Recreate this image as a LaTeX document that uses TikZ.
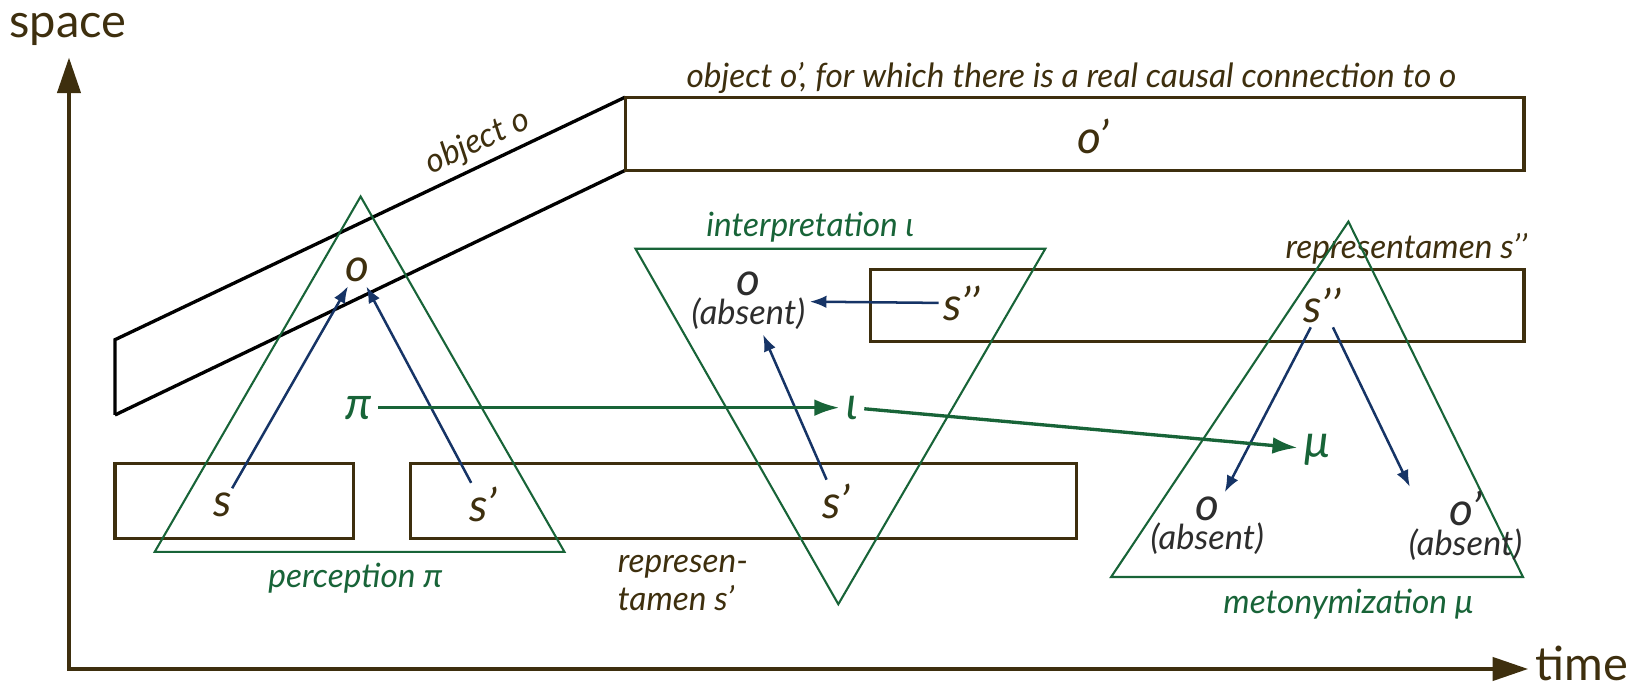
\documentclass[tikz,border=0pt]{standalone}
\usepackage{fontspec}
\setmainfont{Lato}
\usetikzlibrary{arrows.meta}
\definecolor{brn}{RGB}{62,47,14}
\definecolor{grn}{RGB}{24,100,56}
\definecolor{nvy}{RGB}{22,52,102}
\definecolor{absgray}{RGB}{45,45,45}
\newcommand{\symsize}{\fontsize{22}{22}\selectfont\itshape}
\newcommand{\abssize}{\fontsize{16.5}{17}\selectfont\itshape}
\tikzset{
  box/.style={draw=brn, line width=1.5pt},
  band/.style={draw=black, line width=1.6pt},
  tri/.style={draw=grn, line width=1pt},
  sym/.style={font=\symsize, text=brn, inner sep=2pt},
  gsym/.style={font=\symsize, text=grn, inner sep=3pt},
  lbl/.style={font=\fontsize{16}{18}\selectfont\itshape, text=brn},
  glbl/.style={lbl, text=grn},
  absn/.style={align=center, text=absgray, inner sep=2pt},
  sarr/.style={-{Latex[length=8pt,width=6pt]}, draw=nvy, line width=1.2pt},
  garr/.style={-{Latex[length=12pt,width=8pt]}, draw=grn, line width=1.6pt},
  axis/.style={{Triangle[length=17pt,width=11pt]}-{Triangle[length=17pt,width=11pt]}, draw=brn, line width=2pt},
  axlbl/.style={font=\fontsize{22.5}{25}\selectfont, text=brn, inner sep=0pt},
}
\begin{document}
\begin{tikzpicture}[x=0.5pt, y=-0.5pt]
  \useasboundingbox (0,0) rectangle (1568,659);
  % axes
  \coordinate (orig) at (66,640);
  \coordinate (ytip) at (66,55);
  \coordinate (xtip) at (1462,640);
  \draw[axis] (ytip) -- (orig) -- (xtip);
  \node[axlbl] (space) at (65,28) {space};
  \node[axlbl, anchor=west] (time) at (1469,635) {time};

  % objects and representamens
  \draw[band] (110,397) -- (110,325) -- (598,93);
  \draw[band] (110,397) -- (598,163);
  \path (110,325) -- node[lbl, sloped, above, pos=0.73] (objo) {object o} (598,93);
  \draw[box] (598,93) rectangle (1458,163);
  \node[lbl] (objop) at (1025,75) {object o’, for which there is a real causal connection to o};
  \draw[box] (110,443) rectangle (338,515);
  \draw[box] (393,443) rectangle (1030,515);
  \draw[box] (833,258) rectangle (1458,327);
  \node[lbl, anchor=east] (rep2) at (1468,238) {representamen s’’};
  \node[lbl, align=left, anchor=west] (rep1) at (584,558) {represen-\\tamen s’};

  % triangles
  \draw[tri] (345,188) -- (540,528) -- (148,528) -- cycle;
  \draw[tri] (608,238) -- (1000,238) -- (802,578) -- cycle;
  \draw[tri] (1290,212) -- (1457,552) -- (1063,552) -- cycle;
  \node[glbl] (perc) at (340,553) {perception π};
  \node[glbl] (interp) at (775,217) {interpretation ι};
  \node[glbl] (meto) at (1290,578) {metonymization μ};

  % signs and objects
  \node[sym] (o) at (342,258) {o};
  \node[sym] (s) at (213,483) {s};
  \node[sym] (s1a) at (462,483) {s’};
  \node[sym] (s1b) at (800,480) {s’};
  \node[sym] (s2a) at (920,290) {s’’};
  \node[sym] (s2b) at (1265,292) {s’’};
  \node[sym] (op) at (1046,130) {o’};
  \node[absn] (oabsa) at (716,288) {{\symsize o}\\[0pt]{\abssize (absent)}};
  \node[absn] (oabsb) at (1155,503) {{\symsize o}\\[0pt]{\abssize (absent)}};
  \node[absn] (oabsc) at (1402,503) {{\symsize o’}\\[0pt]{\abssize (absent)}};
  \node[gsym] (pi) at (343,390) {π};
  \node[gsym] (iota) at (815,390) {ι};
  \node[gsym] (mu) at (1260,430) {μ};

  % relations
  \draw[sarr] (s) -- (o);
  \draw[sarr] (s1a) -- (o);
  \draw[sarr] (s1b) -- (oabsa);
  \draw[sarr] (s2a) -- (oabsa);
  \draw[sarr] (s2b) -- (oabsb);
  \draw[sarr] (s2b) -- (oabsc.145);
  \draw[garr] (pi) -- (iota);
  \draw[garr] (iota) -- (mu);
\end{tikzpicture}
\end{document}
